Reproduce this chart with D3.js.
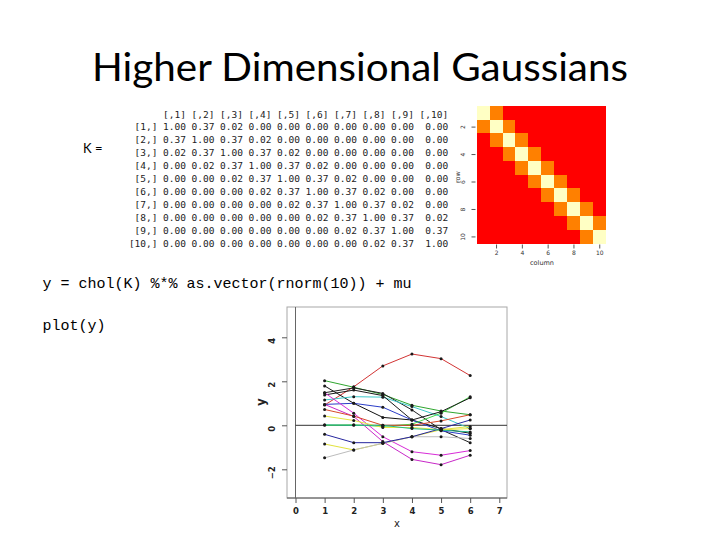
<!DOCTYPE html>
<html>
<head>
<meta charset="utf-8">
<script src="https://cdn.jsdelivr.net/npm/d3@7"></script>
<style>
html,body{margin:0;padding:0;background:#fff;}
svg{display:block;}
</style>
</head>
<body>
<svg id="chart" width="720" height="540"></svg>
<script>
// ---------------- data ----------------
const titleText = "Higher Dimensional Gaussians";
const codeLines = ["y = chol(K) %*% as.vector(rnorm(10)) + mu", "plot(y)"];
const matrixColLabels = ["[,1]","[,2]","[,3]","[,4]","[,5]","[,6]","[,7]","[,8]","[,9]","[,10]"];
const matrixRowLabels = ["[1,]","[2,]","[3,]","[4,]","[5,]","[6,]","[7,]","[8,]","[9,]","[10,]"];
const K = [
  [1.00,0.37,0.02,0.00,0.00,0.00,0.00,0.00,0.00,0.00],
  [0.37,1.00,0.37,0.02,0.00,0.00,0.00,0.00,0.00,0.00],
  [0.02,0.37,1.00,0.37,0.02,0.00,0.00,0.00,0.00,0.00],
  [0.00,0.02,0.37,1.00,0.37,0.02,0.00,0.00,0.00,0.00],
  [0.00,0.00,0.02,0.37,1.00,0.37,0.02,0.00,0.00,0.00],
  [0.00,0.00,0.00,0.02,0.37,1.00,0.37,0.02,0.00,0.00],
  [0.00,0.00,0.00,0.00,0.02,0.37,1.00,0.37,0.02,0.00],
  [0.00,0.00,0.00,0.00,0.00,0.02,0.37,1.00,0.37,0.02],
  [0.00,0.00,0.00,0.00,0.00,0.00,0.02,0.37,1.00,0.37],
  [0.00,0.00,0.00,0.00,0.00,0.00,0.00,0.02,0.37,1.00]
];
const heatTicks = [2,4,6,8,10];
const plotX = [1,2,3,4,5,6];
const plotXTicks = [0,1,2,3,4,5,6,7];
const plotYTicks = [-2,0,2,4];
const seriesValues = [
  [0.92, 1.75, 2.70, 3.24, 3.03, 2.26],
  [2.03, 1.73, 1.40, 0.91, 0.65, 0.48],
  [1.79, 1.00, 0.36, 0.24, -0.15, -0.36],
  [1.48, 1.70, 1.45, 0.70, -0.20, -0.79],
  [1.15, 1.30, 1.28, 0.85, 0.40, -0.15],
  [0.95, 1.00, 0.82, 0.24, -0.25, -0.45],
  [0.00, 0.02, -0.05, 0.05, 0.55, 1.30],
  [1.38, 1.60, 1.35, 0.24, 0.62, 1.25],
  [1.48, 0.55, -0.52, -1.20, -1.36, -1.15],
  [0.95, 0.40, -0.74, -1.55, -1.79, -1.36],
  [0.42, 0.22, -0.10, -0.10, -0.20, -0.15],
  [-0.85, -1.12, -0.82, -0.52, -0.20, -0.05],
  [-1.48, -1.12, -0.82, -0.52, -0.52, -0.60],
  [-0.41, -0.79, -0.79, -0.52, -0.15, 0.24],
  [0.72, 0.42, 0.00, 0.00, 0.20, 0.48],
  [0.02, 0.00, 0.00, -0.15, -0.22, -0.30]
];
const seriesColors = ["#d23434","#2fa62f","#111111","#222222","#3cc8c8","#2a3cc8",
  "#46d846","#1a1a1a","#d82cd8","#c828c8","#e6e640","#e2e23c","#bcbcbc","#26269e","#d84a2a","#22b888"];

// ---------------- drawing ----------------
const svg = d3.select("#chart");

// title
svg.append("text")
  .attr("x", 92).attr("y", 81)
  .attr("textLength", 536).attr("lengthAdjust", "spacingAndGlyphs")
  .style("font-family", "Lato, 'Open Sans', sans-serif")
  .style("font-size", "39px").style("fill", "#000")
  .text(titleText);

// K =
svg.append("text").attr("x", 83).attr("y", 152.5)
  .style("font-family", "Lato, 'Open Sans', sans-serif").style("font-size", "13px").style("fill", "#000")
  .text("K =");

// ---- matrix printout ----
const cw = 5.7, x0 = 129;
const charX = d3.scaleLinear().domain([0, 56]).range([x0, x0 + 56 * cw]);
const rowY = d3.scaleLinear().domain([-1, 9]).range([117.5, 247.2]);
const colEndChar = j => 10 + 5 * j + (j === 9 ? 1 : 0);
const fmt = d3.format(".2f");
const mono = "'DejaVu Sans Mono', monospace";
const mg = svg.append("g").style("font-family", mono).style("font-size", "9.5px").style("fill", "#1c1c24");
mg.selectAll("text.ch").data(matrixColLabels).join("text").attr("class", "ch")
  .attr("x", (d, j) => charX(colEndChar(j))).attr("y", rowY(-1))
  .attr("text-anchor", "end").text(d => d);
mg.selectAll("text.rh").data(matrixRowLabels).join("text").attr("class", "rh")
  .attr("x", charX(5)).attr("y", (d, i) => rowY(i))
  .attr("text-anchor", "end").text(d => d);
K.forEach((row, i) => {
  mg.selectAll("text.v" + i).data(row).join("text").attr("class", "v" + i)
    .attr("x", (d, j) => charX(colEndChar(j))).attr("y", rowY(i))
    .attr("text-anchor", "end").text(d => fmt(d));
});

// ---- heatmap ----
const hx = d3.scaleBand().domain(d3.range(1, 11)).range([476.7, 605.7]).padding(0);
const hy = d3.scaleBand().domain(d3.range(1, 11)).range([106, 243.3]).padding(0);
const heatColor = d3.scaleThreshold().domain([0.2, 0.7]).range(["#ff0000", "#ff8000", "#ffffc4"]);
const hg = svg.append("g").attr("shape-rendering", "crispEdges");
K.forEach((row, i) => {
  hg.selectAll("rect.r" + i).data(row).join("rect").attr("class", "r" + i)
    .attr("x", (d, j) => hx(j + 1)).attr("y", hy(i + 1))
    .attr("width", hx.bandwidth() + 0.6).attr("height", hy.bandwidth() + 0.6)
    .attr("fill", d => heatColor(d));
});
const hxAxis = d3.axisBottom(d3.scaleLinear().domain([1, 10]).range([hx(1) + hx.bandwidth() / 2, hx(10) + hx.bandwidth() / 2]))
  .tickValues(heatTicks).tickSize(4).tickSizeOuter(0);
const hxa = svg.append("g").attr("transform", "translate(0,244.5)").call(hxAxis);
hxa.select(".domain").remove();
hxa.selectAll("text").style("font-size", "6px").style("font-family", "'DejaVu Sans', sans-serif").style("fill", "#333").attr("dy", "0.9em").attr("y", 5);
hxa.selectAll("line").attr("stroke", "#555");
const hyAxis = d3.axisLeft(d3.scaleLinear().domain([1, 10]).range([hy(1) + hy.bandwidth() / 2, hy(10) + hy.bandwidth() / 2]))
  .tickValues(heatTicks).tickSize(4).tickSizeOuter(0);
const hya = svg.append("g").attr("transform", "translate(475.5,0)").call(hyAxis);
hya.select(".domain").remove();
hya.selectAll("line").attr("stroke", "#555");
hya.selectAll("text").style("font-size", "6px").style("font-family", "'DejaVu Sans', sans-serif").style("fill", "#333")
  .attr("text-anchor", "middle").attr("x", 0).attr("dy", 0)
  .attr("transform", "translate(-11,0) rotate(-90)");
svg.append("text").attr("x", 542).attr("y", 265).attr("text-anchor", "middle")
  .style("font-size", "6.5px").style("font-family", "'DejaVu Sans', sans-serif").style("fill", "#333").text("column");
svg.append("text").attr("transform", "translate(460,177) rotate(-90)").attr("text-anchor", "middle")
  .style("font-size", "6.5px").style("font-family", "'DejaVu Sans', sans-serif").style("fill", "#333").text("row");

// ---- code lines ----
svg.selectAll("text.code").data(codeLines).join("text").attr("class", "code")
  .attr("x", 42.5).attr("y", (d, i) => [288, 330][i])
  .style("font-family", "'Liberation Mono', 'DejaVu Sans Mono', monospace").style("font-size", "15px")
  .attr("textLength", (d) => d.length * 9.0).attr("lengthAdjust", "spacingAndGlyphs")
  .style("fill", "#000").style("white-space", "pre").attr("xml:space", "preserve")
  .text(d => d);

// ---- line plot ----
const px = d3.scaleLinear().domain([0, 7]).range([295.5, 499.3]);
const py = d3.scaleLinear().domain([-2, 4]).range([469.3, 337.3]);
const box = {l: 287, r: 507, t: 307, b: 498};
const pg = svg.append("g");
pg.append("rect").attr("x", box.l).attr("y", box.t).attr("width", box.r - box.l).attr("height", box.b - box.t)
  .attr("fill", "none").attr("stroke", "#a8a8a8").attr("stroke-width", 1);
pg.append("line").attr("x1", box.l).attr("x2", box.r).attr("y1", box.b).attr("y2", box.b).attr("stroke", "#555");
// reference lines at 0
pg.append("line").attr("x1", px(0)).attr("x2", px(0)).attr("y1", box.t).attr("y2", box.b).attr("stroke", "#666");
pg.append("line").attr("x1", px(0)).attr("x2", box.r).attr("y1", py(0)).attr("y2", py(0)).attr("stroke", "#333");

const xa = pg.append("g").attr("transform", `translate(0,${box.b})`)
  .call(d3.axisBottom(px).tickValues(plotXTicks).tickSize(5).tickFormat(d3.format("d")));
xa.select(".domain").remove();
xa.selectAll("line").attr("stroke", "#555");
xa.selectAll("text").attr("y", 10).style("font-size", "8.5px").style("font-weight", "bold")
  .style("font-family", "'DejaVu Sans', sans-serif").style("fill", "#222");
const ya = pg.append("g").attr("transform", `translate(${box.l},0)`)
  .call(d3.axisLeft(py).tickValues(plotYTicks).tickSize(5).tickFormat(d3.format("d")));
ya.select(".domain").remove();
ya.selectAll("line").attr("stroke", "#555");
ya.selectAll("text").attr("x", 0).attr("dy", 0).attr("text-anchor", "middle")
  .attr("transform", "translate(-12,3) rotate(-90)")
  .style("font-size", "8.5px").style("font-weight", "bold")
  .style("font-family", "'DejaVu Sans', sans-serif").style("fill", "#222");
pg.append("text").attr("x", 397).attr("y", 527).attr("text-anchor", "middle")
  .style("font-size", "10px").style("font-family", "'DejaVu Sans', sans-serif").style("fill", "#222").text("x");
pg.append("text").attr("transform", "translate(265,402) rotate(-90)").attr("text-anchor", "middle")
  .style("font-size", "12px").style("font-weight", "bold").style("font-family", "'DejaVu Sans', sans-serif").style("fill", "#222").text("y");

const line = d3.line().x((d, i) => px(plotX[i])).y(d => py(d));
pg.selectAll("path.series").data(seriesValues).join("path").attr("class", "series")
  .attr("d", d => line(d)).attr("fill", "none")
  .attr("stroke", (d, i) => seriesColors[i]).attr("stroke-width", 1);
seriesValues.forEach((vals, s) => {
  pg.selectAll("circle.pt" + s).data(vals).join("circle").attr("class", "pt" + s)
    .attr("cx", (d, i) => px(plotX[i])).attr("cy", d => py(d))
    .attr("r", 1.5).attr("fill", "#1a1a1a");
});
</script>
</body>
</html>
